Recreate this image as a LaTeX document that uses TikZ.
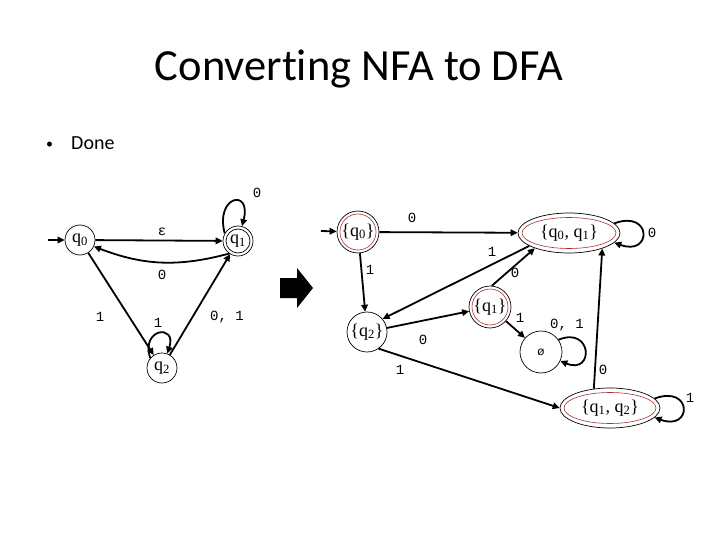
\documentclass[tikz,border=0pt]{standalone}
\usepackage{fontspec}
\setmainfont{Carlito}[Ligatures=NoCommon]
\newfontfamily\stf{Liberation Serif}
\newfontfamily\lbf{Liberation Mono}
\usetikzlibrary{shapes.geometric,arrows.meta,calc}
\definecolor{innerred}{RGB}{170,50,50}
\begin{document}
\begin{tikzpicture}[x=1pt,y=1pt,
  st/.style={circle,draw,line width=0.7pt,inner sep=0pt,minimum size=30pt,font=\stf\fontsize{18}{18}\selectfont},
  dst/.style={circle,draw,line width=0.7pt,inner sep=0pt,font=\stf\fontsize{18}{18}\selectfont},
  dell/.style={ellipse,draw,line width=0.7pt,inner sep=0pt,font=\stf\fontsize{18}{18}\selectfont},
  inr/.style={draw=innerred,line width=0.6pt},
  ed/.style={line width=1.8pt,-{Triangle[length=7pt,width=6.5pt]}},
  lbl/.style={font=\lbf\fontsize{14}{14}\selectfont,inner sep=0pt}
]
\fill[white] (0,0) rectangle (720,-540);
\useasboundingbox (0,0) rectangle (720,-540);

% title and bullet
\node[font=\fontsize{44.5}{52}\selectfont,anchor=base] (title) at (359,-81) {Converting NFA to DFA};
\node[font=\fontsize{14}{16}\selectfont,anchor=base west,inner sep=0pt] (bul) at (46,-149) {•};
\node[font=\fontsize{20}{24}\selectfont,anchor=base west,inner sep=0pt] (done) at (71,-150) {Done};

% ---------- NFA ----------
\node[st] (q0) at (80,-240) {q\textsubscript{0}};
\node[st] (q1) at (238,-241) {q\textsubscript{1}};
\draw[line width=0.7pt] (q1.center) circle (12);
\node[st] (q2) at (162,-368) {q\textsubscript{2}};
\coordinate (s0) at (48,-240);
\draw[ed] (s0) -- (q0);
\draw[ed] (q0) -- (q1);
\draw[ed] (q1.235) to[bend left=18] (q0.-25);
\draw[ed] (q1.150) .. controls +(-10,38) and +(10,38) .. (q1.75);
\draw[ed] (q2.140) .. controls +(-10,30) and +(10,30) .. (q2.70);
\draw[ed] (q0) -- (q2);
\draw[ed] (q2) -- (q1);

\node[lbl] (le) at (162,-232) {ε};
\node[lbl] (l1) at (257,-193) {0};
\node[lbl] (l2) at (162,-275) {0};
\node[lbl] (l3) at (100,-317) {1};
\node[lbl] (l4) at (158,-323) {1};
\node[lbl] (l5) at (227,-317) {0, 1};

% big arrow
\fill (280,-278) -- (297,-278) -- (297,-268) -- (313,-288) -- (297,-308) -- (297,-298) -- (280,-298) -- cycle;

% ---------- DFA ----------
\node[dst,minimum size=42pt] (A) at (358,-232) {\{q\textsubscript{0}\}};
\draw[inr] (A.center) circle (18);
\node[dell,minimum width=102pt,minimum height=40pt] (B) at (569,-233) {\{q\textsubscript{0}, q\textsubscript{1}\}};
\draw[inr] (B.center) ellipse (47 and 15.5);
\node[dst,minimum size=40pt] (C) at (367,-332) {\{q\textsubscript{2}\}};
\node[dst,minimum size=42pt] (D) at (490,-307) {\{q\textsubscript{1}\}};
\draw[inr] (D.center) circle (18);
\node[dst,minimum size=42pt] (E) at (541,-352) {\lbf\fontsize{12}{12}\selectfont ø};
\node[dell,minimum width=100pt,minimum height=40pt] (F) at (610,-408) {\{q\textsubscript{1}, q\textsubscript{2}\}};
\draw[inr] (F.center) ellipse (46 and 15.5);

\coordinate (s1) at (321,-231);
\draw[ed] (s1) -- (A);
\draw[ed] (A) -- (B);
\draw[ed] (A) -- (C);
\draw[ed] (B.198) -- (C.40);
\draw[ed] (D.85) -- (B.204);
\draw[ed] (C) -- (D);
\draw[ed] (D) -- (E);
\draw[ed] (C.-55) -- (F.west);
\draw[ed] (F.130) -- (B.-25);
\draw[ed] (B.12) .. controls +(38,14) and +(38,-14) .. (B.-12);
\draw[ed] (E.35) .. controls +(34,14) and +(34,-14) .. (E.-25);
\draw[ed] (F.12) .. controls +(38,14) and +(38,-14) .. (F.-12);

\node[lbl] (r1) at (412,-218) {0};
\node[lbl] (r2) at (370,-270) {1};
\node[lbl] (r3) at (492,-252) {1};
\node[lbl] (r4) at (515,-273) {0};
\node[lbl] (r5) at (652,-233) {0};
\node[lbl] (r6) at (520,-318) {1};
\node[lbl] (r7) at (567,-325) {0, 1};
\node[lbl] (r8) at (423,-340) {0};
\node[lbl] (r9) at (400,-370) {1};
\node[lbl] (r10) at (603,-370) {0};
\node[lbl] (r11) at (690,-398) {1};
\end{tikzpicture}
\end{document}
